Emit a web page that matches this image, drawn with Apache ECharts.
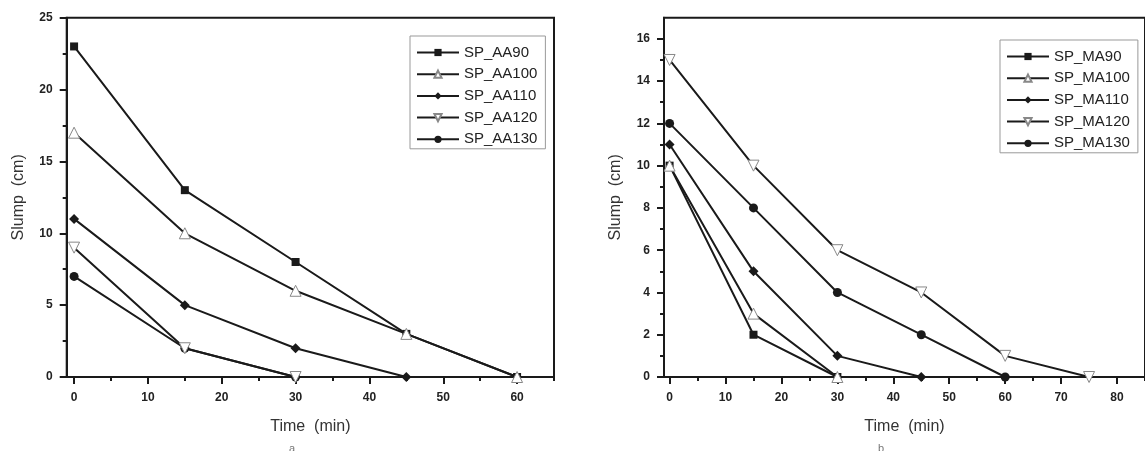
<!DOCTYPE html>
<html>
<head>
<meta charset="utf-8">
<script src="https://cdn.jsdelivr.net/npm/echarts@6/dist/echarts.min.js"></script>
<style>
html,body{margin:0;padding:0;background:#fff;}
#c{width:1145px;height:451px;}
</style>
</head>
<body>
<div id="c"></div>
<script>
// ---- data ----
const timeA = [0, 15, 30, 45, 60];
const AA90  = [23, 13, 8, 3, 0];
const AA100 = [17, 10, 6, 3, 0];
const AA110 = [11, 5, 2, 0];
const AA120 = [9, 2, 0];
const AA130 = [7, 2, 0];

const timeM = [0, 15, 30, 45, 60, 75];
const MA90  = [10, 2, 0];
const MA100 = [10, 3, 0];
const MA110 = [11, 5, 1, 0];
const MA120 = [15, 10, 6, 4, 1, 0];
const MA130 = [12, 8, 4, 2, 0];

const xTicksA = [0, 10, 20, 30, 40, 50, 60];
const xMinorA = [5, 15, 25, 35, 45, 55, 65];
const yTicksA = [0, 5, 10, 15, 20, 25];
const yMinorA = [2.5, 7.5, 12.5, 17.5, 22.5];
const xTicksM = [0, 10, 20, 30, 40, 50, 60, 70, 80];
const xMinorM = [5, 15, 25, 35, 45, 55, 65, 75, 85];
const yTicksM = [0, 2, 4, 6, 8, 10, 12, 14, 16];
const yMinorM = [1, 3, 5, 7, 9, 11, 13, 15];

const xTitle = 'Time  (min)';
const yTitle = 'Slump  (cm)';

function pairs(t, v){ return v.map((y,i)=>[t[i], y]); }

const INK = '#1a1a1a';
const FONT = 'Liberation Sans, Arial, sans-serif';
const lblStyle = {color:'#222', fontSize:12, fontWeight:'bold', fontFamily:FONT};
const titleStyle = {color:'#333', fontSize:16, fontFamily:FONT};

function majorAxis(dim, g, min, max, ticks, name, gap){
  return {
    type:'value', gridIndex:g, min:min, max:max,
    position: dim==='x' ? 'bottom' : 'left',
    name:name, nameLocation:'middle', nameGap:gap, nameTextStyle:titleStyle,
    axisLine:{show:true, onZero:false, lineStyle:{color:INK, width:2}},
    axisTick:{show:true, inside:false, length:7, lineStyle:{color:INK, width:2}, customValues:ticks},
    axisLabel:{show:true, margin: dim==='x' ? 15 : 14, customValues:ticks, ...lblStyle},
    splitLine:{show:false}
  };
}
function minorAxis(dim, g, min, max, ticks){
  return {
    type:'value', gridIndex:g, min:min, max:max,
    position: dim==='x' ? 'bottom' : 'left',
    axisLine:{show:false, onZero:false},
    axisTick:{show:true, inside:false, length:4, lineStyle:{color:INK, width:2}, customValues:ticks},
    axisLabel:{show:false},
    splitLine:{show:false}
  };
}

function mkSeries(name, t, v, xi, yi, sym){
  const open = sym.open;
  return {
    name:name, type:'line', xAxisIndex:xi, yAxisIndex:yi,
    data:pairs(t, v),
    symbol:sym.symbol, symbolSize:sym.size, symbolRotate:sym.rotate||0,
    showAllSymbol:true,
    lineStyle:{color:INK, width:2},
    itemStyle: open ? {color:'#fff', borderColor:'#888', borderWidth:1} : {color:INK, borderColor:INK, borderWidth:0},
    emphasis:{disabled:true},
    z: open ? 3 : 2
  };
}

const SQ = {symbol:'rect', size:8};
const TRI = {symbol:'triangle', size:11, open:true};
const DIA = {symbol:'diamond', size:10};
const DTRI = {symbol:'triangle', size:11, rotate:180, open:true};
const CIR = {symbol:'circle', size:9};

const legendText = {color:'#222', fontSize:15, fontFamily:FONT};
function legend(names, left, top){
  return {
    data:names, orient:'vertical', left:left, top:top,
    itemWidth:42, itemHeight:9, itemGap:6.7, padding:[9,8,2,6],
    borderColor:'#999', borderWidth:1, selectedMode:false,
    textStyle:legendText
  };
}

const chart = echarts.init(document.getElementById('c'), null, {renderer:'canvas'});
chart.setOption({
  animation:false,
  backgroundColor:'#fff',
  grid:[
    {left:66.7, top:17.7, width:554-66.7, height:377-17.7, show:true, borderColor:INK, borderWidth:2, backgroundColor:'transparent'},
    {left:664, top:17.7, width:489, height:377-17.7, show:true, borderColor:INK, borderWidth:2, backgroundColor:'transparent'}
  ],
  xAxis:[
    majorAxis('x', 0, -1, 65, xTicksA, xTitle, 42),
    minorAxis('x', 0, -1, 65, xMinorA),
    majorAxis('x', 1, -1, 85, xTicksM, xTitle, 42),
    minorAxis('x', 1, -1, 85, xMinorM)
  ],
  yAxis:[
    majorAxis('y', 0, 0, 25, yTicksA, yTitle, 40),
    minorAxis('y', 0, 0, 25, yMinorA),
    majorAxis('y', 1, 0, 17, yTicksM, yTitle, 40),
    minorAxis('y', 1, 0, 17, yMinorM)
  ],
  legend:[
    legend(['SP_AA90','SP_AA100','SP_AA110','SP_AA120','SP_AA130'], 410, 36),
    legend(['SP_MA90','SP_MA100','SP_MA110','SP_MA120','SP_MA130'], 1000, 40)
  ],
  series:[
    mkSeries('SP_AA90', timeA, AA90, 0, 0, SQ),
    mkSeries('SP_AA100', timeA, AA100, 0, 0, TRI),
    mkSeries('SP_AA110', timeA, AA110, 0, 0, DIA),
    mkSeries('SP_AA120', timeA, AA120, 0, 0, DTRI),
    mkSeries('SP_AA130', timeA, AA130, 0, 0, CIR),
    mkSeries('SP_MA90', timeM, MA90, 2, 2, SQ),
    mkSeries('SP_MA100', timeM, MA100, 2, 2, TRI),
    mkSeries('SP_MA110', timeM, MA110, 2, 2, DIA),
    mkSeries('SP_MA120', timeM, MA120, 2, 2, DTRI),
    mkSeries('SP_MA130', timeM, MA130, 2, 2, CIR)
  ],
  graphic:[
    {type:'text', left:289, top:443, style:{text:'a', fontSize:11, fill:'#777', fontFamily:FONT}},
    {type:'text', left:878, top:443, style:{text:'b', fontSize:11, fill:'#777', fontFamily:FONT}}
  ]
});
</script>
</body>
</html>
